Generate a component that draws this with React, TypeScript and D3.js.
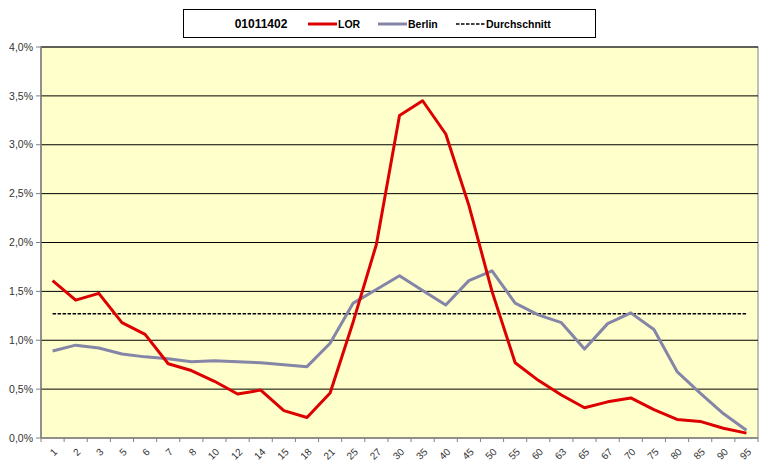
import React from 'react';
import * as d3 from 'd3';

// Altersgruppen (x-Achse)
const ages = ['1', '2', '3', '5', '6', '7', '8', '10', '12', '14', '15', '18', '21', '25', '27', '30',
  '35', '40', '45', '50', '55', '60', '63', '65', '67', '70', '75', '80', '85', '90', '95'];

// Anteile in %
const lorValues = [1.61, 1.41, 1.48, 1.18, 1.06, 0.76, 0.69, 0.58, 0.45, 0.49, 0.28, 0.21, 0.46, 1.19, 1.98, 3.30,
  3.45, 3.11, 2.38, 1.50, 0.77, 0.59, 0.44, 0.31, 0.37, 0.41, 0.29, 0.19, 0.17, 0.10, 0.05];
const berlinValues = [0.89, 0.95, 0.92, 0.86, 0.83, 0.81, 0.78, 0.79, 0.78, 0.77, 0.75, 0.73, 0.97, 1.38, 1.52, 1.66,
  1.51, 1.36, 1.61, 1.71, 1.38, 1.26, 1.18, 0.91, 1.17, 1.28, 1.11, 0.68, 0.46, 0.25, 0.08];
const average = 1.27;

const yTicks = [0, 0.5, 1.0, 1.5, 2.0, 2.5, 3.0, 3.5, 4.0];
const lorTitle = '01011402';

const W = 765;
const H = 472;
const left = 41, right = 758, top = 47, bottom = 438;

const App = () => {
  const x = d3.scaleBand<string>().domain(ages).range([left, right]).paddingInner(0).paddingOuter(0);
  const y = d3.scaleLinear().domain([0, 4]).range([bottom, top]);
  const cx = (a: string) => (x(a) as number) + x.bandwidth() / 2;

  const line = d3.line<number>()
    .x((_, i) => cx(ages[i]))
    .y(d => y(d));

  const fmt = (v: number) => v.toFixed(1).replace('.', ',') + '%';
  const font = 'Liberation Sans, Arial, sans-serif';

  return (
    <svg width={W} height={H} style={{ position: 'absolute', left: 0, top: 0, background: '#fff' }}>
      <rect x={left} y={top} width={right - left} height={bottom - top} fill="#FFFFCC" stroke="#808080" strokeWidth={1} />

      {yTicks.filter(t => t > 0).map(t => (
        <line key={t} x1={left} x2={right} y1={y(t)} y2={y(t)} stroke="#000" strokeWidth={1} />
      ))}

      {/* y axis */}
      <line x1={left} x2={left} y1={top} y2={bottom} stroke="#808080" strokeWidth={1.5} />
      {yTicks.map(t => (
        <g key={'yt' + t}>
          <line x1={left - 5} x2={left} y1={y(t)} y2={y(t)} stroke="#808080" />
          <text x={left - 8} y={y(t)} dy="0.35em" textAnchor="end" fontFamily={font} fontSize={10.5} fill="#333">{fmt(t)}</text>
        </g>
      ))}

      {/* x axis */}
      <line x1={left} x2={right} y1={bottom} y2={bottom} stroke="#808080" strokeWidth={1.5} />
      {ages.concat(['']).map((a, i) => {
        const xp = left + i * x.bandwidth();
        return <line key={'xt' + i} x1={xp} x2={xp} y1={bottom} y2={bottom + 4} stroke="#808080" />;
      })}
      {ages.map(a => (
        <text key={'xl' + a} transform={`translate(${cx(a) + 3},${bottom + 12}) rotate(-45)`}
          textAnchor="end" dy="0.35em" fontFamily={font} fontSize={10} fill="#333">{a}</text>
      ))}

      {/* Durchschnitt */}
      <line x1={cx(ages[0])} x2={cx(ages[ages.length - 1])} y1={y(average)} y2={y(average)}
        stroke="#000" strokeWidth={1.5} strokeDasharray="3.5,1.5" />

      <path d={line(berlinValues) || ''} fill="none" stroke="#8585A8" strokeWidth={3} strokeLinejoin="round" />
      <path d={line(lorValues) || ''} fill="none" stroke="#DD0000" strokeWidth={3} strokeLinejoin="round" />

      {/* Legende */}
      <rect x={183.5} y={9.5} width={412} height={28} fill="#fff" stroke="#000" strokeWidth={1} />
      <text x={261} y={24} dy="0.35em" textAnchor="middle" fontFamily={font} fontSize={12} fontWeight="bold" fill="#000">{lorTitle}</text>
      <line x1={308} x2={337} y1={24} y2={24} stroke="#DD0000" strokeWidth={3} />
      <text x={338} y={24} dy="0.35em" fontFamily={font} fontSize={10.5} fontWeight="bold" fill="#000">LOR</text>
      <line x1={378} x2={407} y1={24} y2={24} stroke="#8585A8" strokeWidth={3} />
      <text x={408} y={24} dy="0.35em" fontFamily={font} fontSize={10.5} fontWeight="bold" fill="#000">Berlin</text>
      <line x1={456} x2={485} y1={24} y2={24} stroke="#000" strokeWidth={1.5} strokeDasharray="3.5,1.5" />
      <text x={486} y={24} dy="0.35em" fontFamily={font} fontSize={10.5} fontWeight="bold" fill="#000">Durchschnitt</text>
    </svg>
  );
};

export default App;
